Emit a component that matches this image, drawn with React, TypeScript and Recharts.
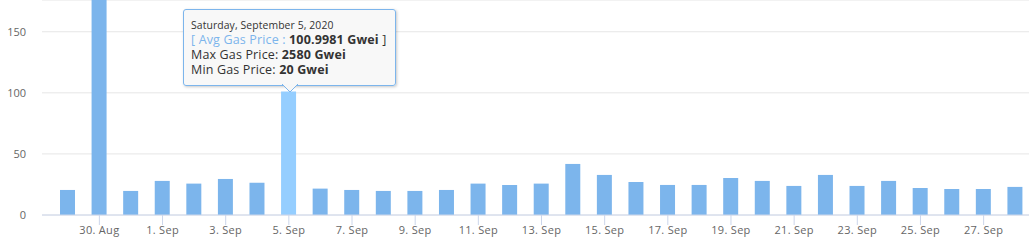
import React from 'react';
import { BarChart, Bar, Cell, XAxis, YAxis, CartesianGrid, Tooltip } from 'recharts';

// one bar per day, avg gas price in Gwei
const days = [
  '29. Aug', '30. Aug', '31. Aug', '1. Sep', '2. Sep', '3. Sep', '4. Sep', '5. Sep',
  '6. Sep', '7. Sep', '8. Sep', '9. Sep', '10. Sep', '11. Sep', '12. Sep', '13. Sep',
  '14. Sep', '15. Sep', '16. Sep', '17. Sep', '18. Sep', '19. Sep', '20. Sep', '21. Sep',
  '22. Sep', '23. Sep', '24. Sep', '25. Sep', '26. Sep', '27. Sep', '28. Sep',
];
const avgGas = [
  20.5, 240, 19.7, 27.9, 25.7, 29.5, 26.5, 100.9981,
  21.6, 20.5, 19.7, 19.7, 20.5, 25.7, 24.6, 25.7,
  41.8, 32.8, 27, 24.6, 24.6, 30.3, 27.9, 23.8,
  32.8, 23.8, 27.9, 22.1, 21.3, 21.3, 23,
];
// labelled days on the x axis
const labelledDays = [
  '30. Aug', '1. Sep', '3. Sep', '5. Sep', '7. Sep', '9. Sep', '11. Sep', '13. Sep',
  '15. Sep', '17. Sep', '19. Sep', '21. Sep', '23. Sep', '25. Sep', '27. Sep',
];
const yTicks = [0, 50, 100, 150];

// the day whose tooltip is open
const hoverIndex = 7;
const hoverDate = 'Saturday, September 5, 2020';
const hoverMax = 2580;
const hoverMin = 20;

const data = days.map((day, i) => ({ day, avg: avgGas[i] }));

const BAR = '#7cb5ec';
const BAR_HOVER = '#95ceff';
const FONT = '"Open Sans", "Segoe UI", sans-serif';

const DayTick = (props: any) => {
  const { x, y, payload } = props;
  if (!labelledDays.includes(payload.value)) return null;
  return (
    <g>
      <line x1={x} x2={x} y1={y} y2={y + 10} stroke="#ccd6eb" />
      <text
        x={x}
        y={y + 19}
        textAnchor="middle"
        fill="#666"
        fontSize={11}
        fontFamily={FONT}
        letterSpacing={0.3}
      >
        {payload.value}
      </text>
    </g>
  );
};

const GasTooltip = ({ payload }: any) => {
  if (!payload || !payload.length) return null;
  const avg = payload[0].value;
  return (
    <div
      style={{
        position: 'relative',
        width: 213,
        boxSizing: 'border-box',
        padding: '8px 7px',
        background: 'rgba(247,247,247,0.92)',
        border: `1px solid ${BAR}`,
        borderRadius: 3,
        boxShadow: '1px 1px 3px rgba(0,0,0,0.22)',
        fontFamily: FONT,
        fontSize: 12.5,
        letterSpacing: 0.15,
        lineHeight: '15px',
        color: '#333',
        whiteSpace: 'nowrap',
      }}
    >
      <div style={{ fontSize: 10.4, lineHeight: '14px', letterSpacing: 0.1 }}>{hoverDate}</div>
      <div>
        <span style={{ color: BAR }}>[ Avg Gas Price : </span>
        <b>{avg} Gwei</b> ]
      </div>
      <div>
        Max Gas Price: <b>{hoverMax} Gwei</b>
      </div>
      <div>
        Min Gas Price: <b>{hoverMin} Gwei</b>
      </div>
      <svg
        width={16}
        height={9}
        style={{ position: 'absolute', left: 98, top: '100%', marginTop: -1, overflow: 'visible' }}
      >
        <path d="M0 0 L8 8 L16 0 Z" fill="rgba(247,247,247,1)" />
        <path d="M0 0 L8 8 L16 0" fill="none" stroke={BAR} />
      </svg>
    </div>
  );
};

export default function App() {
  return (
    <div style={{ position: 'fixed', left: 0, top: 0, width: 1029, height: 246, overflow: 'hidden', background: '#fff' }}>
      <BarChart width={1031} height={246} data={data} margin={{ top: 0, right: 0, bottom: 0, left: 0 }}>
        <CartesianGrid horizontal vertical={false} stroke="#e6e6e6" />
        <XAxis
          dataKey="day"
          interval={0}
          height={31}
          padding={{ left: 10, right: 0 }}
          axisLine={{ stroke: '#ccd6eb' }}
          tickLine={false}
          tickSize={0}
          tickMargin={0}
          tick={<DayTick />}
        />
        <YAxis
          width={42}
          domain={[0, 176]}
          ticks={yTicks}
          allowDataOverflow
          axisLine={false}
          tickLine={false}
          tickSize={0}
          tickMargin={16}
          tick={{ fill: '#666', fontSize: 11, fontFamily: FONT }}
        />
        <Tooltip
          active
          defaultIndex={hoverIndex}
          cursor={false}
          isAnimationActive={false}
          position={{ x: 183, y: 9 }}
          content={<GasTooltip />}
          wrapperStyle={{ outline: 'none' }}
        />
        <Bar dataKey="avg" barSize={15} isAnimationActive={false} activeBar={false}>
          {data.map((d, i) => (
            <Cell key={d.day} fill={i === hoverIndex ? BAR_HOVER : BAR} />
          ))}
        </Bar>
      </BarChart>
    </div>
  );
}
